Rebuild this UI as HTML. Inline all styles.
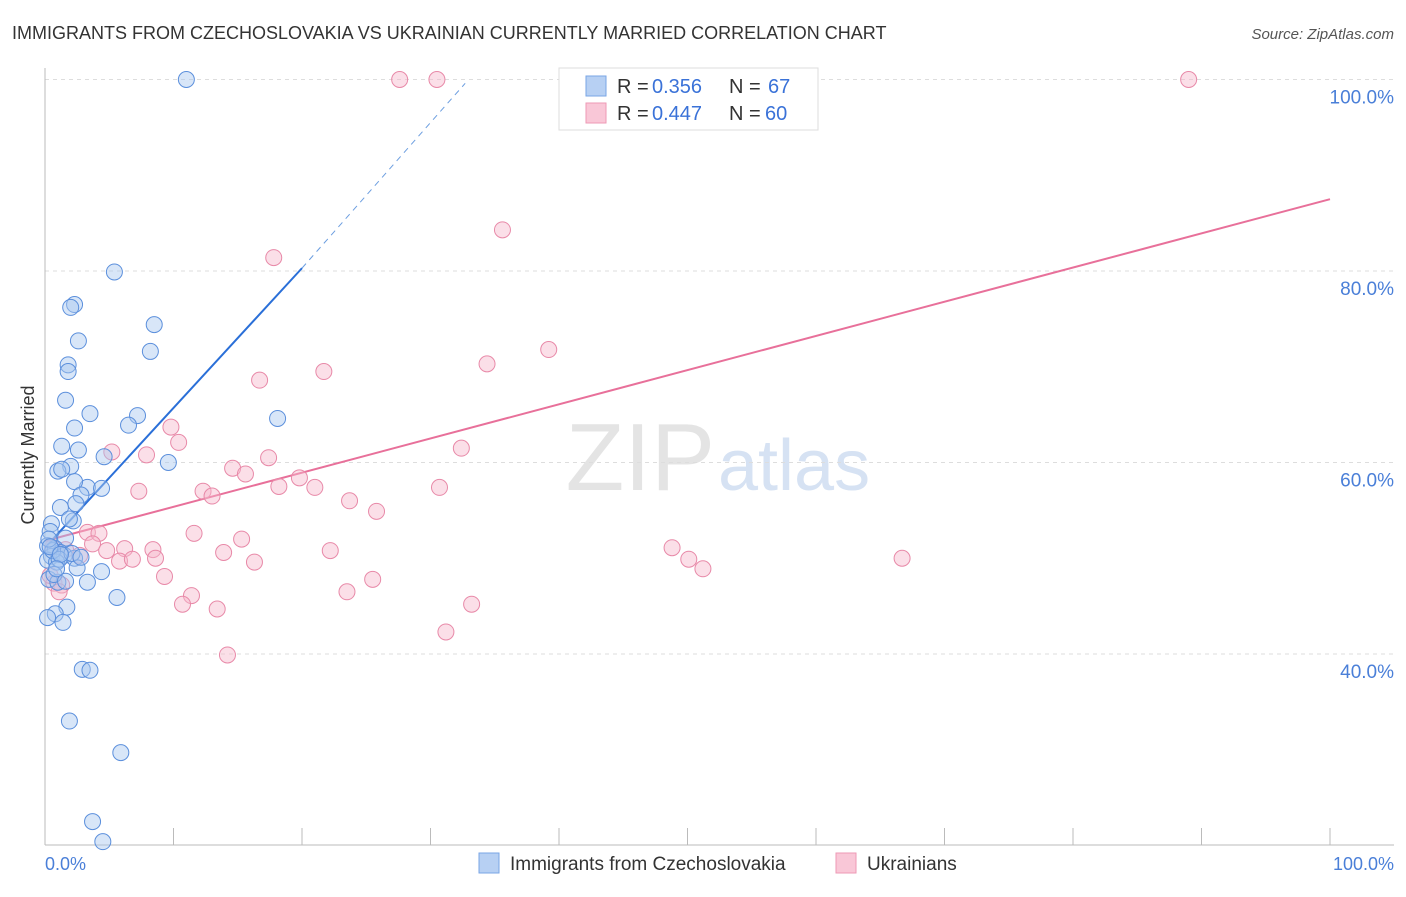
<!DOCTYPE html>
<html><head><meta charset="utf-8"><style>
body{margin:0;background:#fff;font-family:"Liberation Sans",sans-serif;}
svg text{font-family:"Liberation Sans",sans-serif;}
</style></head><body>
<svg id="chart" width="1406" height="892" xmlns="http://www.w3.org/2000/svg">
<text x="12" y="39" font-size="18" fill="#333">IMMIGRANTS FROM CZECHOSLOVAKIA VS UKRAINIAN CURRENTLY MARRIED CORRELATION CHART</text>
<text x="1394" y="39" font-size="15" fill="#555" text-anchor="end" font-style="italic">Source: ZipAtlas.com</text>
<text x="715" y="490" font-size="96" fill="#e4e4e4" text-anchor="end" font-family="Liberation Serif">ZIP</text>
<text x="718" y="490" font-size="72" fill="#d6e2f3">atlas</text>
<g id="grid"></g><g id="axes"></g><g id="trend"></g><g id="pts"></g>
<text transform="translate(34,455) rotate(-90)" font-size="18" fill="#333" text-anchor="middle">Currently Married</text>
<text x="45" y="870" font-size="18" fill="#4a7fd8">0.0%</text>
<text x="1394" y="870" font-size="18" fill="#4a7fd8" text-anchor="end">100.0%</text>
<g>
<rect x="559" y="68" width="259" height="62" fill="#fff" stroke="#ddd"/>
<rect x="586" y="76" width="20" height="20" fill="#b7d0f3" stroke="#7aa6e6"/>
<rect x="586" y="103" width="20" height="20" fill="#f9c7d7" stroke="#ee9ab5"/>
<text x="617" y="93" font-size="20" fill="#333">R =</text><text x="652" y="93" font-size="20" fill="#3a72d8">0.356</text>
<text x="729" y="93" font-size="20" fill="#333">N =</text><text x="768" y="93" font-size="20" fill="#3a72d8">67</text>
<text x="617" y="120" font-size="20" fill="#333">R =</text><text x="652" y="120" font-size="20" fill="#3a72d8">0.447</text>
<text x="729" y="120" font-size="20" fill="#333">N =</text><text x="765" y="120" font-size="20" fill="#3a72d8">60</text>
</g>
<g>
<rect x="479" y="853" width="20" height="20" fill="#b7d0f3" stroke="#7aa6e6"/>
<text x="510" y="870" font-size="19" fill="#333">Immigrants from Czechoslovakia</text>
<rect x="836" y="853" width="20" height="20" fill="#f9c7d7" stroke="#ee9ab5"/>
<text x="867" y="870" font-size="19" fill="#333">Ukrainians</text>
</g>
</svg>
<script>
const yTicks=[40,60,80,100];
const xTicks=[0,10,20,30,40,50,60,70,80,90,100];
const blueX=[11,5.4,2.3,2,8.5,2.6,8.2,1.8,1.8,1.6,3.5,7.2,6.5,18.1,2.3,1.3,2.6,4.6,9.6,2,1,1.3,3.3,2.3,4.4,2.8,2.4,1.2,2.2,1.9,0.5,0.4,1.6,0.2,0.8,1.2,0.5,0.2,1.5,2.3,0.9,2.5,4.4,0.3,1,3.3,5.6,1.7,0.8,0.2,1.4,2.9,3.5,1.9,5.9,3.7,4.5,0.6,1.1,0.3,2.1,0.7,1.6,0.4,1.2,0.9,2.8];
const blueY=[100,79.9,76.5,76.2,74.4,72.7,71.6,70.2,69.5,66.5,65.1,64.9,63.9,64.6,63.6,61.7,61.3,60.6,60,59.6,59.1,59.3,57.4,58,57.3,56.6,55.7,55.3,53.9,54.1,53.6,52.8,52.1,51.3,51,50.6,50.2,49.8,50.3,50,49.6,49,48.6,47.8,47.5,47.5,45.9,44.9,44.2,43.8,43.3,38.4,38.3,33,29.7,22.5,20.4,50.8,49.9,52,50.5,48.3,47.6,51.2,50.4,48.9,50.1];
const pinkX=[27.6,30.5,89,35.6,17.8,39.2,34.4,21.7,16.7,9.8,10.4,5.2,32.4,7.9,14.6,15.6,19.8,17.4,21,18.2,7.3,12.3,13,30.7,23.7,25.8,3.3,4.2,11.6,15.3,3.7,6.2,8.4,4.8,22.2,13.9,48.8,50.1,51.2,66.7,5.8,8.6,6.8,16.3,0.6,2.7,1.6,9.3,25.5,0.7,1.3,1.1,23.5,11.4,10.7,33.2,13.4,31.2,14.2,0.4];
const pinkY=[100,100,100,84.3,81.4,71.8,70.3,69.5,68.6,63.7,62.1,61.1,61.5,60.8,59.4,58.8,58.4,60.5,57.4,57.5,57,57,56.5,57.4,56,54.9,52.7,52.6,52.6,52,51.5,51,50.9,50.8,50.8,50.6,51.1,49.9,48.9,50,49.7,50,49.9,49.6,51.1,50.3,50.9,48.1,47.8,47.4,47.2,46.5,46.5,46.1,45.2,45.2,44.7,42.3,39.9,48.2];
const X=v=>45+v*12.85, Y=v=>1037-v*9.575;
const ns="http://www.w3.org/2000/svg";
function mk(tag,attrs,parent){const e=document.createElementNS(ns,tag);for(const k in attrs)e.setAttribute(k,attrs[k]);document.getElementById(parent).appendChild(e);return e;}
yTicks.forEach(t=>{
 const l=mk('line',{x1:45,x2:1394,y1:Y(t),y2:Y(t),stroke:'#ddd','stroke-dasharray':'4,4'},'grid');
 
 
 const tx=mk('text',{x:1394,y:Y(t)+24,'font-size':19,fill:'#4a7fd8','text-anchor':'end'},'grid');tx.textContent=t.toFixed(1)+'%';
 
 
});
const ax=mk('line',{x1:45,x2:45,y1:68,y2:845,stroke:'#bbb'},'axes');


const bx=mk('line',{x1:45,x2:1394,y1:845,y2:845,stroke:'#bbb'},'axes');


xTicks.forEach(t=>{const l=mk('line',{x1:X(t),x2:X(t),y1:828,y2:845,stroke:'#bbb'},'axes');
 
 });
function pts(xs,ys,fill,stroke,name){xs.forEach((v,i)=>{const c=mk('circle',{cx:X(v),cy:Y(ys[i]),r:8,fill:fill,'fill-opacity':0.45,stroke:stroke,'stroke-width':1},'pts');
 
 });}
pts(pinkX,pinkY,'#f7b8cc','#e889a8','ukrainian-point');
pts(blueX,blueY,'#a9c7f0','#5b8fdc','czech-point');
const b1=mk('line',{x1:X(0),y1:Y(51.1),x2:X(20),y2:Y(80.3),stroke:'#2a6fd8','stroke-width':2},'trend');


const b2=mk('line',{x1:X(20),y1:Y(80.3),x2:X(32.7),y2:Y(99.6),stroke:'#6c9ee0','stroke-width':1,'stroke-dasharray':'6,5'},'trend');


const p=mk('line',{x1:X(0),y1:Y(51.8),x2:X(100),y2:Y(87.5),stroke:'#e8709a','stroke-width':2},'trend');


</script>
</body></html>
